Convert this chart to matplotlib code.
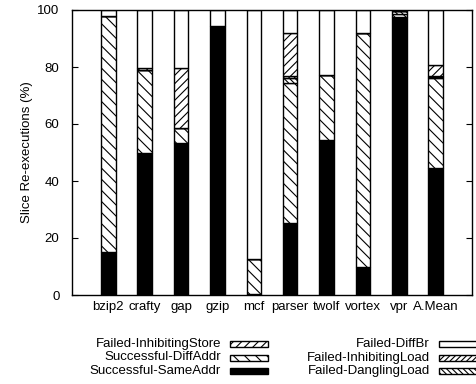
import matplotlib
matplotlib.use("Agg")
import matplotlib.pyplot as plt
from matplotlib.patches import Rectangle
import numpy as np

plt.rcParams['font.family'] = ['Liberation Sans', 'DejaVu Sans']
plt.rcParams['hatch.linewidth'] = 0.8

categories = ["bzip2", "crafty", "gap", "gzip", "mcf", "parser", "twolf", "vortex", "vpr", "A.Mean"]

same_addr      = [15.2, 49.7, 53.3, 94.4, 0.5, 25.2, 54.4, 9.9, 97.7, 44.4]
diff_addr      = [82.6, 29.1, 5.4, 0.0, 12.1, 49.3, 22.7, 82.1, 1.0, 31.6]
dangling_load  = [0.0, 0.0, 0.0, 0.0, 0.0, 1.5, 0.0, 0.0, 0.8, 0.4]
inhibit_load   = [0.0, 0.0, 0.0, 0.0, 0.0, 0.8, 0.0, 0.0, 0.0, 0.4]
inhibit_store  = [0.0, 1.0, 20.9, 0.0, 0.0, 15.3, 0.0, 0.0, 0.0, 3.9]
diff_br        = [2.2, 20.2, 20.4, 5.6, 87.4, 7.9, 22.9, 8.0, 0.5, 19.3]

series = [
    ("Successful-SameAddr", same_addr, "black", None),
    ("Successful-DiffAddr", diff_addr, "white", "\\\\\\"),
    ("Failed-DanglingLoad", dangling_load, "white", "\\\\\\\\\\\\"),
    ("Failed-InhibitingLoad", inhibit_load, "white", "//////"),
    ("Failed-InhibitingStore", inhibit_store, "white", "////"),
    ("Failed-DiffBr", diff_br, "white", None),
]

fig = plt.figure(figsize=(4.77, 3.84), dpi=100)
ax = fig.add_axes([72/477, 1-295/384, 400/477, 285/384])

x = np.arange(len(categories))
bottom = np.zeros(len(categories))
for name, vals, fc, hatch in series:
    v = np.array(vals)
    ax.bar(x, v, 0.4, bottom=bottom, color=fc, edgecolor="black",
           hatch=hatch, linewidth=1.0)
    bottom += v

ax.set_xlim(-1, 10)
ax.set_ylim(0, 100)
ax.set_yticks([0, 20, 40, 60, 80, 100])
ax.set_xticks(x)
ax.set_xticklabels(categories, fontsize=9.5)
ax.tick_params(axis='x', length=0, pad=4)
ax.tick_params(axis='y', direction='in', length=4, right=True, labelsize=9.5, pad=9)
for s in ax.spines.values():
    s.set_linewidth(1.0)
ax.set_ylabel("Slice Re-executions (%)", fontsize=9.5, labelpad=3)

# gnuplot-style legend
W, H = 477.0, 384.0
col1 = [("Failed-InhibitingStore", "white", "////"),
        ("Successful-DiffAddr", "white", "\\\\\\"),
        ("Successful-SameAddr", "black", None)]
col2 = [("Failed-DiffBr", "white", None),
        ("Failed-InhibitingLoad", "white", "//////"),
        ("Failed-DanglingLoad", "white", "\\\\\\\\\\\\")]
rows_y = [344, 357.5, 371]
for col, tx, sx in [(col1, 221, 230), (col2, 430, 439)]:
    for (lab, fc, hatch), yy in zip(col, rows_y):
        fig.text(tx/W, 1-yy/H, lab, ha='right', va='center', fontsize=9.5)
        r = Rectangle((sx/W, 1-(yy+3)/H), 38/W, 6/H, transform=fig.transFigure,
                      facecolor=fc, edgecolor='black', hatch=hatch, linewidth=1.0)
        fig.add_artist(r)

fig.savefig("out.png", dpi=100)
